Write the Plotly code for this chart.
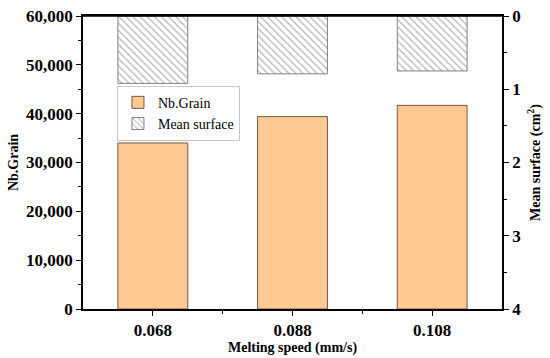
import plotly.graph_objects as go

categories = ["0.068", "0.088", "0.108"]
nb_grain = [34000, 39400, 41700]
mean_surface = [0.92, 0.79, 0.75]

xpos = list(range(len(categories)))
FONT = "Liberation Serif"

fig = go.Figure()
fig.add_trace(go.Bar(
    x=xpos, y=nb_grain, name="Nb.Grain", width=0.5,
    marker=dict(color="#FFC993", line=dict(color="#6E5A46", width=1)),
    yaxis="y",
))
fig.add_trace(go.Bar(
    x=xpos, y=mean_surface, name="Mean surface", width=0.5,
    marker=dict(color="white", line=dict(color="#808080", width=1),
                pattern=dict(shape="\\", fgcolor="#6a6a6a", bgcolor="white",
                             size=5, solidity=0.25)),
    yaxis="y2",
))

axis_common = dict(showline=True, linecolor="black", linewidth=1.5,
                   ticks="outside", ticklen=5, tickwidth=1.2, tickcolor="black",
                   showgrid=False, zeroline=False, automargin=False,
                   ticklabeloverflow="allow",
                   tickfont=dict(family=FONT, size=17, color="black", weight="bold"))

fig.update_layout(
    width=550, height=358,
    margin=dict(l=83, r=48, t=16, b=49),
    plot_bgcolor="white", paper_bgcolor="white",
    barmode="overlay",
    showlegend=True,
    legend=dict(x=0.081, y=0.762, xanchor="left", yanchor="top",
                bgcolor="white", bordercolor="#C8C8C8", borderwidth=1,
                font=dict(family=FONT, size=14, color="black"),
                tracegroupgap=0, itemwidth=30),
    xaxis=dict(range=[-0.5, 2.5], tickvals=xpos, ticktext=categories,
               mirror=True,
               minor=dict(tickvals=[0.5, 1.5], ticks="outside", ticklen=3, tickcolor="black"),
               title=dict(text="<b>Melting speed (mm/s)</b>", standoff=0,
                          font=dict(family=FONT, size=14, color="black")),
               **axis_common),
    yaxis=dict(range=[0, 60000], dtick=10000, tickformat=",d",
               minor=dict(dtick=5000, ticks="outside", ticklen=3, tickcolor="black"),
               title=dict(text="<b>Nb.Grain</b>", standoff=4,
                          font=dict(family=FONT, size=14, color="black")),
               **axis_common),
    yaxis2=dict(range=[4, 0], dtick=1, overlaying="y", side="right",
                minor=dict(dtick=0.5, ticks="outside", ticklen=3, tickcolor="black"),
                title=dict(text="<b>Mean surface (cm<sup>2</sup>)</b>", standoff=10,
                           font=dict(family=FONT, size=14, color="black")),
                **axis_common),
)
# top frame line
fig.add_shape(type="line", xref="paper", yref="paper", x0=0, x1=1, y0=1, y1=1,
              line=dict(color="black", width=1.5), layer="above")

fig.write_html("out.html",
               config={"displayModeBar": False},
               post_script="document.body.style.margin='0';document.body.style.overflow='hidden';")
